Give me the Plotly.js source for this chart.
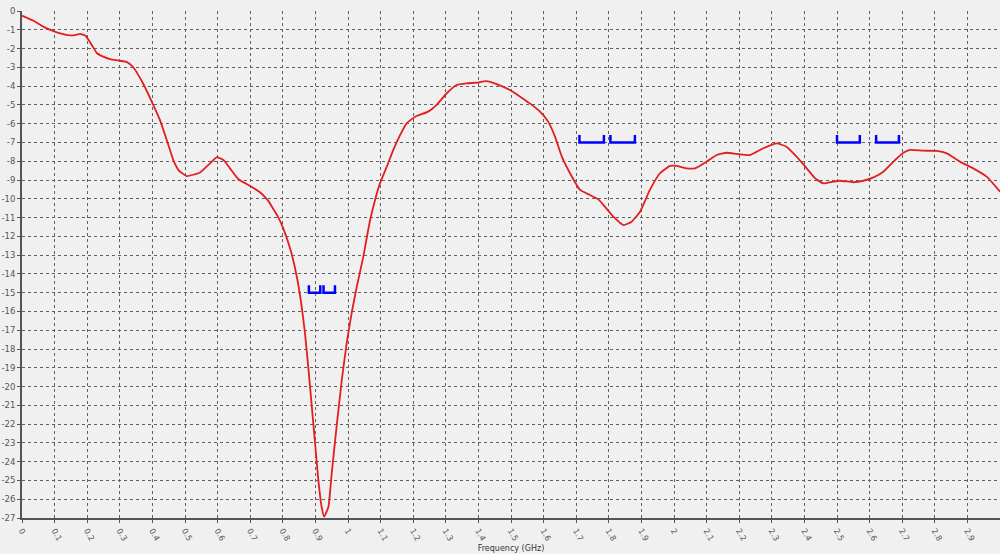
<!DOCTYPE html>
<html>
<head>
<meta charset="utf-8">
<script src="https://cdn.plot.ly/plotly-3.0.1.min.js"></script>
<style>html,body{margin:0;padding:0;background:#f0f0f0;}#chart{width:1000px;height:554px;}</style>
</head>
<body>
<div id="chart"></div>
<script>
// Return loss curve (GHz, dB)
var freqGHz = [0.0,0.035,0.065,0.095,0.117,0.147,0.163,0.178,0.195,0.214,0.23,0.249,0.27,0.3,0.322,0.34,0.371,0.4,0.423,0.444,0.464,0.48,0.505,0.546,0.577,0.597,0.618,0.638,0.664,0.7,0.73,0.755,0.771,0.785,0.802,0.825,0.843,0.858,0.868,0.878,0.889,0.899,0.909,0.919,0.927,0.94,0.95,0.965,0.981,0.996,1.011,1.027,1.047,1.067,1.083,1.098,1.119,1.139,1.16,1.18,1.206,1.246,1.272,1.303,1.333,1.364,1.395,1.425,1.456,1.497,1.528,1.558,1.589,1.614,1.635,1.656,1.681,1.712,1.742,1.768,1.788,1.814,1.845,1.87,1.896,1.926,1.957,1.988,2.008,2.039,2.064,2.1,2.131,2.162,2.192,2.233,2.274,2.315,2.345,2.376,2.407,2.433,2.458,2.488,2.509,2.55,2.581,2.612,2.642,2.673,2.704,2.724,2.765,2.806,2.837,2.877,2.918,2.959,3.0];
var returnLossDb = [-0.25,-0.52,-0.83,-1.06,-1.19,-1.3,-1.28,-1.22,-1.32,-1.81,-2.25,-2.43,-2.56,-2.65,-2.72,-2.97,-3.85,-4.9,-5.8,-6.87,-7.93,-8.47,-8.79,-8.6,-8.11,-7.79,-7.93,-8.38,-8.96,-9.32,-9.65,-10.1,-10.55,-10.95,-11.6,-12.8,-14.15,-15.75,-17.16,-18.94,-21.07,-23.02,-24.97,-26.4,-26.93,-26.4,-24.62,-22.13,-19.65,-17.69,-16.1,-14.68,-13.08,-11.2,-10.06,-9.18,-8.29,-7.4,-6.6,-5.98,-5.63,-5.36,-5.0,-4.38,-3.94,-3.85,-3.82,-3.73,-3.89,-4.21,-4.56,-4.92,-5.36,-5.89,-6.69,-7.76,-8.64,-9.53,-9.8,-10.03,-10.42,-10.95,-11.4,-11.22,-10.69,-9.53,-8.64,-8.25,-8.25,-8.38,-8.38,-8.02,-7.67,-7.55,-7.61,-7.67,-7.31,-7.05,-7.23,-7.76,-8.38,-8.91,-9.18,-9.09,-9.04,-9.12,-9.04,-8.86,-8.56,-8.02,-7.55,-7.4,-7.44,-7.45,-7.58,-8.02,-8.38,-8.82,-9.62];

// Frequency band brackets
var bandStart = [0.88, 0.925, 1.71, 1.805, 2.5, 2.62];
var bandEnd   = [0.915, 0.96, 1.785, 1.88, 2.57, 2.69];
var bandLevel = [-15, -15, -7, -7, -7, -7];
var bandTop   = [-14.6, -14.6, -6.6, -6.6, -6.6, -6.6];

// Tick labels
var xTickVals = [0,0.1,0.2,0.3,0.4,0.5,0.6,0.7,0.8,0.9,1,1.1,1.2,1.3,1.4,1.5,1.6,1.7,1.8,1.9,2,2.1,2.2,2.3,2.4,2.5,2.6,2.7,2.8,2.9];
var xTickText = ["0","0.1","0.2","0.3","0.4","0.5","0.6","0.7","0.8","0.9","1","1.1","1.2","1.3","1.4","1.5","1.6","1.7","1.8","1.9","2","2.1","2.2","2.3","2.4","2.5","2.6","2.7","2.8","2.9"];
var yTickVals = [];
var yTickText = [];
for (var i = 0; i >= -27; i--) { yTickVals.push(i); yTickText.push(String(i)); }

var bx = [], by = [];
for (var k = 0; k < bandStart.length; k++) {
  bx.push(bandStart[k], bandStart[k], bandEnd[k], bandEnd[k], null);
  by.push(bandTop[k], bandLevel[k], bandLevel[k], bandTop[k], null);
}

var traces = [
  {x: freqGHz, y: returnLossDb, type: 'scatter', mode: 'lines',
   line: {color: '#e02020', width: 1.8, shape: 'spline', smoothing: 0.45},
   hoverinfo: 'x+y'},
  {x: bx, y: by, type: 'scatter', mode: 'lines',
   line: {color: '#0000ff', width: 2.5}, connectgaps: false, hoverinfo: 'skip'}
];

var layout = {
  width: 1000, height: 554,
  margin: {l: 22, r: 0, t: 11, b: 36},
  paper_bgcolor: '#f0f0f0', plot_bgcolor: '#f0f0f0',
  showlegend: false,
  font: {family: 'DejaVu Sans, Arial, sans-serif', size: 8, color: '#444'},
  xaxis: {
    range: [0, 3], tickvals: xTickVals, ticktext: xTickText, tickangle: 60,
    showgrid: true, gridcolor: '#606060', griddash: 'dot', gridwidth: 1,
    showline: true, linecolor: '#555', linewidth: 2, zeroline: false,
    ticks: 'outside', ticklen: 3, tickcolor: '#555',
    tickfont: {size: 8, color: '#555'},
    automargin: false,
    title: {text: 'Frequency (GHz)', font: {size: 8, color: '#333'}, standoff: 4}
  },
  yaxis: {
    range: [-27, 0], tickvals: yTickVals, ticktext: yTickText,
    showgrid: true, gridcolor: '#606060', griddash: 'dot', gridwidth: 1,
    showline: true, linecolor: '#555', linewidth: 2, zeroline: false,
    ticks: 'outside', ticklen: 3, tickcolor: '#555',
    tickfont: {size: 8.5, color: '#555'},
    automargin: false
  }
};

Plotly.newPlot('chart', traces, layout, {staticPlot: true, displayModeBar: false});
</script>
</body>
</html>
